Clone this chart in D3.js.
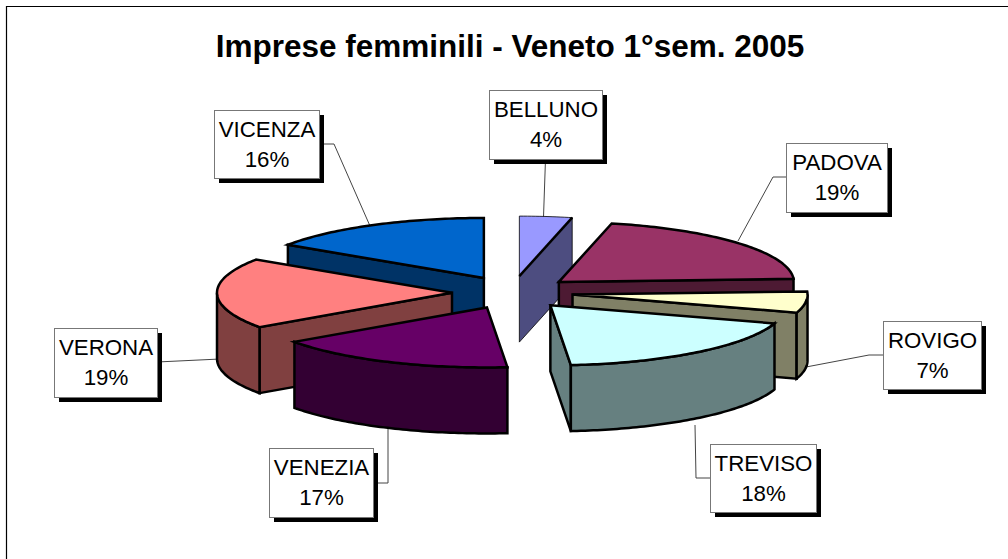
<!DOCTYPE html>
<html><head><meta charset="utf-8">
<script src="https://cdn.jsdelivr.net/npm/d3@7"></script>
<style>html,body{margin:0;padding:0;background:#fff}svg{display:block}</style>
</head><body>
<svg id="c" width="1008" height="559"></svg>
<script>
const chartTitle = "Imprese femminili - Veneto 1°sem. 2005";
const provinces = ["BELLUNO","PADOVA","ROVIGO","TREVISO","VENEZIA","VERONA","VICENZA"];
const shares = [4,19,7,18,17,19,16];
const topColors = ["#9999FF","#993366","#FFFFCC","#CCFFFF","#660066","#FF8080","#0066CC"];
const sideColors = ["#4D4D80","#4D1A33","#808066","#668080","#330033","#804040","#003366"];
// Slice painting order, back to front
const paintOrder = [6,0,1,2,5,3,4];
// On-screen boundary angle (degrees) of the tilted pie at each cumulative share
const screenAngles = [0,13,87,107.5,175,235,303.5,360];

// Label layout: box x,y,w,h and leader polyline
const labelLayout = [
 {b:[489,90,113,69], l:[[545.5,159],[543.5,217]]},
 {b:[786,143,101,69], l:[[786,177],[773,177],[738,241]]},
 {b:[883,321,98,68], l:[[883,355],[869,355],[806,367]]},
 {b:[710,444,106,68], l:[[710,478],[696,478],[695,425]]},
 {b:[269,448,104,69], l:[[378,483],[388,483],[388,425]]},
 {b:[54,328,103,69], l:[[157,362],[220,359]]},
 {b:[214,110,105,68], l:[[319,144],[334,144],[370,226]]}
];

const svg = d3.select("#c");
const C = {cx:512.5, cy:292.5, rx:235, ry:60, h:66, ex:60.5, ey:16.5};

// frame (top and left only)
svg.append("path").attr("d","M6.5,559V6.5H1008").attr("fill","none").attr("stroke","#000").attr("stroke-width",1.2);

const font="'Liberation Sans',Arial,sans-serif";
svg.append("text").attr("x",510).attr("y",57).attr("text-anchor","middle")
  .attr("font-family",font).attr("font-weight","bold")
  .attr("font-size",31.5).attr("fill","#000").text(chartTitle);

const TAU = 2*Math.PI;
const total = d3.sum(shares);
const warp = d3.scaleLinear().domain([0,...d3.cumsum(shares)].map(c=>c/total*TAU)).range(screenAngles);
const rad = d => d*Math.PI/180;
const line = d3.line();

const slices = d3.pie().sort(null)(shares).map((a,i)=>{
  const a0 = warp(a.startAngle), a1 = warp(a.endAngle);
  const mid = rad((a0+a1)/2);
  const ax = C.cx + C.ex*Math.sin(mid), ay = C.cy - C.ey*Math.cos(mid);
  const pt = d => [ax + C.rx*Math.sin(rad(d)), ay - C.ry*Math.cos(rad(d))];
  return {i,a0,a1,ax,ay,pt};
});

// leaders
const leaders = svg.append("g");
labelLayout.forEach(o=>{
  leaders.append("path").attr("d",line(o.l)).attr("fill","none").attr("stroke","#444").attr("stroke-width",1);
});

const pieG = svg.append("g").attr("stroke","#000").attr("stroke-width",2.5).attr("stroke-linejoin","miter");
const down = (p,h) => [p[0],p[1]+h];
paintOrder.forEach(i=>{
  const s = slices[i], g = pieG.append("g");
  // The small Belluno wedge has only a hairline outline, apart from its front edge
  const thin = provinces[i]==="BELLUNO";
  if (thin) g.attr("stroke-width",0.8);
  const apex=[s.ax,s.ay];
  const cutFace = ang=>{
    const p=s.pt(ang);
    g.append("path").attr("fill",sideColors[i])
     .attr("d",line([apex,p,down(p,C.h),down(apex,C.h)])+"Z");
  };
  if (s.a0>180 && s.a0<360) cutFace(s.a0);
  if (s.a1>0 && s.a1<180) cutFace(s.a1);
  const w0=Math.max(s.a0,90), w1=Math.min(s.a1,270);
  if (w1>w0){
    const tops=d3.range(w0,w1,1).concat([w1]).map(s.pt);
    const pts=tops.concat(tops.slice().reverse().map(p=>down(p,C.h)));
    g.append("path").attr("fill",sideColors[i]).attr("d",line(pts)+"Z");
  }
  const rim=d3.range(s.a0,s.a1,1).concat([s.a1]).map(s.pt);
  g.append("path").attr("fill",topColors[i]).attr("d",line([apex,...rim])+"Z");
  if (thin) g.append("path").attr("stroke-width",2.5).attr("d",line([apex,s.pt(s.a1)]));
});

// label boxes
labelLayout.forEach((o,i)=>{
  const [x,y,w,h]=o.b, g=svg.append("g");
  g.append("rect").attr("x",x+5).attr("y",y+5).attr("width",w).attr("height",h).attr("fill","#000");
  g.append("rect").attr("x",x+.5).attr("y",y+.5).attr("width",w).attr("height",h).attr("fill","#fff").attr("stroke","#777").attr("stroke-width",1);
  g.append("text").attr("x",x+w/2+.5).attr("y",y+27).attr("text-anchor","middle").attr("font-family",font).attr("font-size",22.3).attr("fill","#000").text(provinces[i]);
  g.append("text").attr("x",x+w/2+.5).attr("y",y+57).attr("text-anchor","middle").attr("font-family",font).attr("font-size",22.3).attr("fill","#000").text(shares[i]+"%");
});
</script>
</body></html>
